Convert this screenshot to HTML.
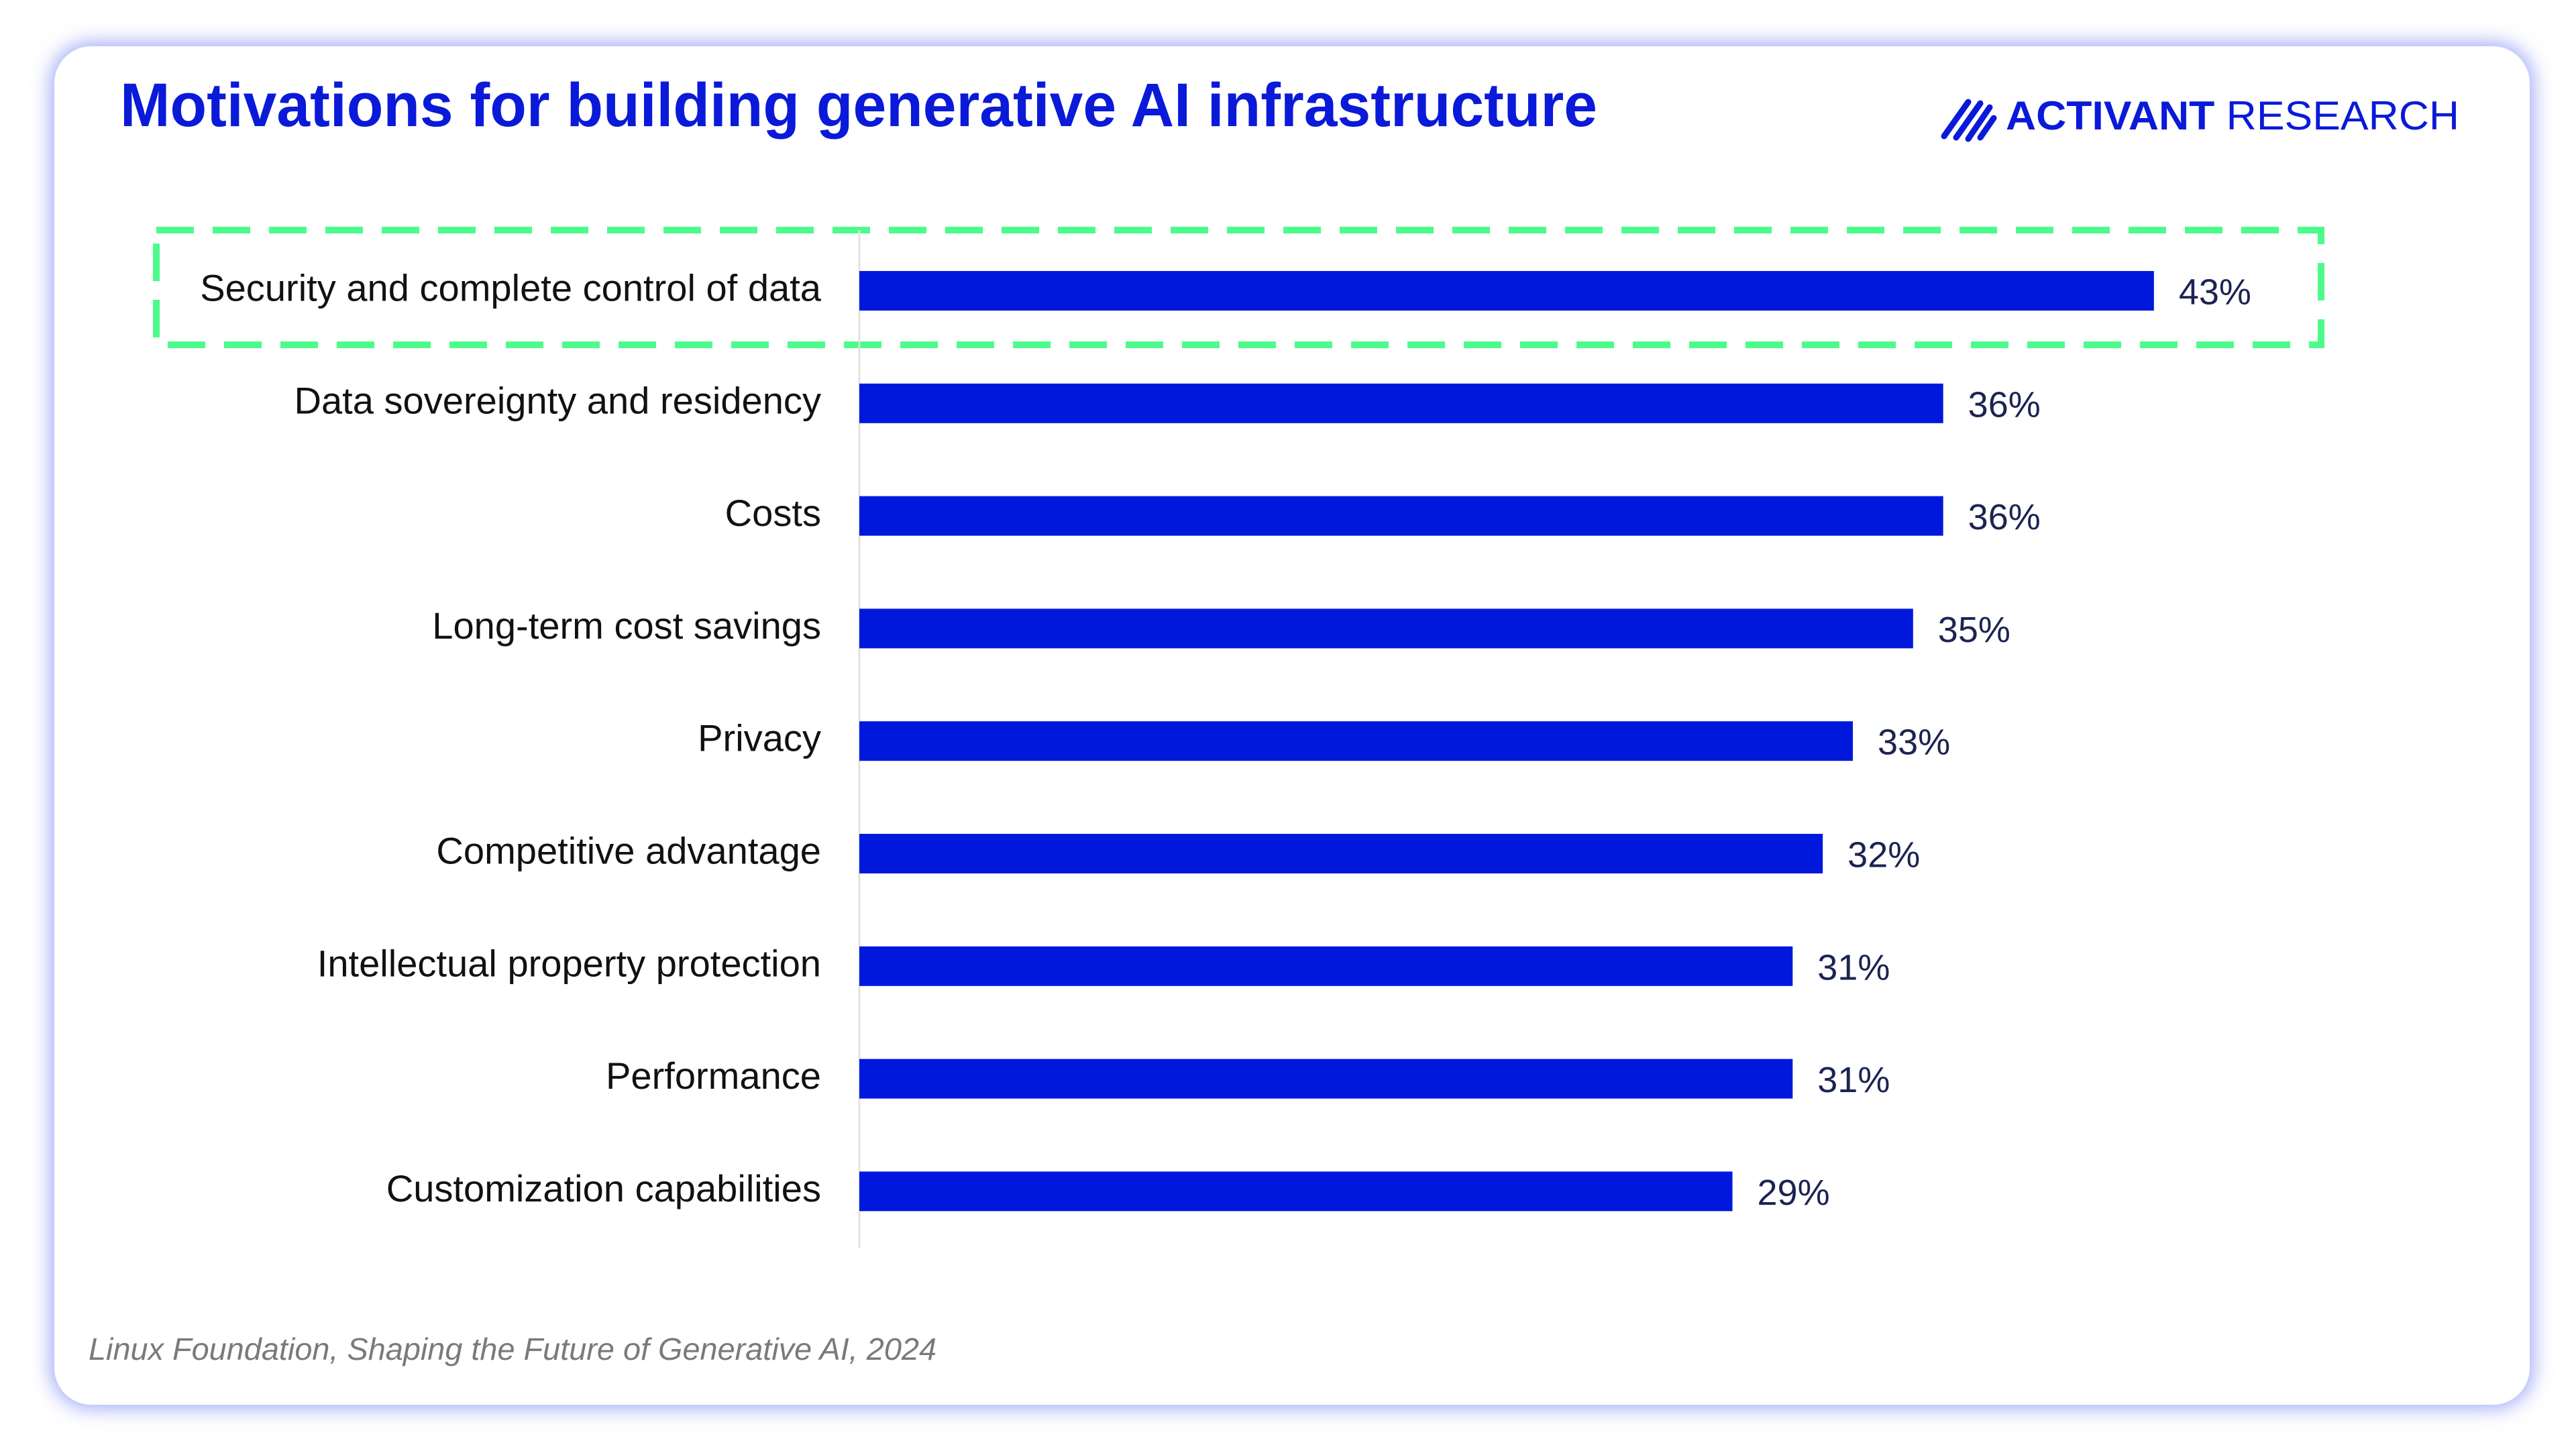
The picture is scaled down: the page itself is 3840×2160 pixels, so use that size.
<!DOCTYPE html>
<html><head><meta charset="utf-8">
<style>
html,body{margin:0;padding:0;background:#fff;width:3840px;height:2160px;overflow:hidden}
#card{position:absolute;left:81px;top:69px;width:3690px;height:2025px;border-radius:55px;background:#fff;box-shadow:0 0 28px 6px rgba(90,105,240,0.55)}
svg{position:absolute;left:0;top:0}
text{font-family:"Liberation Sans",sans-serif}
</style></head><body>
<div id="card"></div>
<svg id="chart" width="3840" height="2160">
  <text x="179" y="188" font-size="92" font-weight="bold" fill="#0a1ad8" textLength="2202" lengthAdjust="spacingAndGlyphs">Motivations for building generative AI infrastructure</text>
  <g fill="#0a1ad8">
    <g stroke="#0a1ad8" stroke-width="9" stroke-linecap="round">
      <line x1="2898" y1="203" x2="2934" y2="152"/>
      <line x1="2916" y1="205" x2="2952" y2="154"/>
      <line x1="2934" y1="207" x2="2966" y2="160"/>
      <line x1="2952" y1="205" x2="2972" y2="176"/>
    </g>
    <text x="2990" y="193" font-size="60" textLength="676" lengthAdjust="spacingAndGlyphs"><tspan font-weight="bold">ACTIVANT</tspan> RESEARCH</text>
  </g>
  <rect x="233" y="343" width="3227" height="171" fill="none" stroke="#4dfb8c" stroke-width="10" stroke-dasharray="56 28"/>
  <line x1="1281" y1="343" x2="1281" y2="1861" stroke="#e2e2e2" stroke-width="3"/>
  <g id="bars"></g>
  <text x="132" y="2027" font-size="46" font-style="italic" fill="#7a7a7a" textLength="1264" lengthAdjust="spacingAndGlyphs">Linux Foundation, Shaping the Future of Generative AI, 2024</text>
</svg>
<script>
const categories = ["Security and complete control of data","Data sovereignty and residency","Costs","Long-term cost savings","Privacy","Competitive advantage","Intellectual property protection","Performance","Customization capabilities"];
const values = [43,36,36,35,33,32,31,31,29];
const valueLabels = ["43%","36%","36%","35%","33%","32%","31%","31%","29%"];

const NS = "http://www.w3.org/2000/svg";
const x0 = 1281, pxPerPct = 44.88;
const xScale = v => x0 + v * pxPerPct;
const yCenter = i => 433.5 + i * 167.8;
const barH = 59;
const g = document.getElementById('bars');
const labels = [];
categories.forEach((c, i) => {
  const cy = yCenter(i);
  const r = document.createElementNS(NS, 'rect');
  
  
  r.setAttribute('x', x0);
  r.setAttribute('y', cy - barH / 2);
  r.setAttribute('width', xScale(values[i]) - x0);
  r.setAttribute('height', barH);
  r.setAttribute('fill', '#0018dc');
  g.appendChild(r);

  const t = document.createElementNS(NS, 'text');
  
  
  t.setAttribute('x', 1224);
  t.setAttribute('y', cy + 15);
  t.setAttribute('font-size', '56');
  t.setAttribute('text-anchor', 'end');
  t.setAttribute('fill', '#111');
  t.textContent = c;
  g.appendChild(t);
  labels.push(t);

  const v = document.createElementNS(NS, 'text');
  
  
  v.setAttribute('x', xScale(values[i]) + 37);
  v.setAttribute('y', cy + 20);
  v.setAttribute('font-size', '54');
  v.setAttribute('fill', '#1b2452');
  v.textContent = valueLabels[i];
  g.appendChild(v);
});
const w0 = labels[0].getComputedTextLength();
const k = w0 > 0 ? 926 / w0 : 1;
labels.forEach(t => {
  t.setAttribute('transform', 'translate(1224,0) scale(' + k + ',1) translate(-1224,0)');
});
</script>
</body></html>
